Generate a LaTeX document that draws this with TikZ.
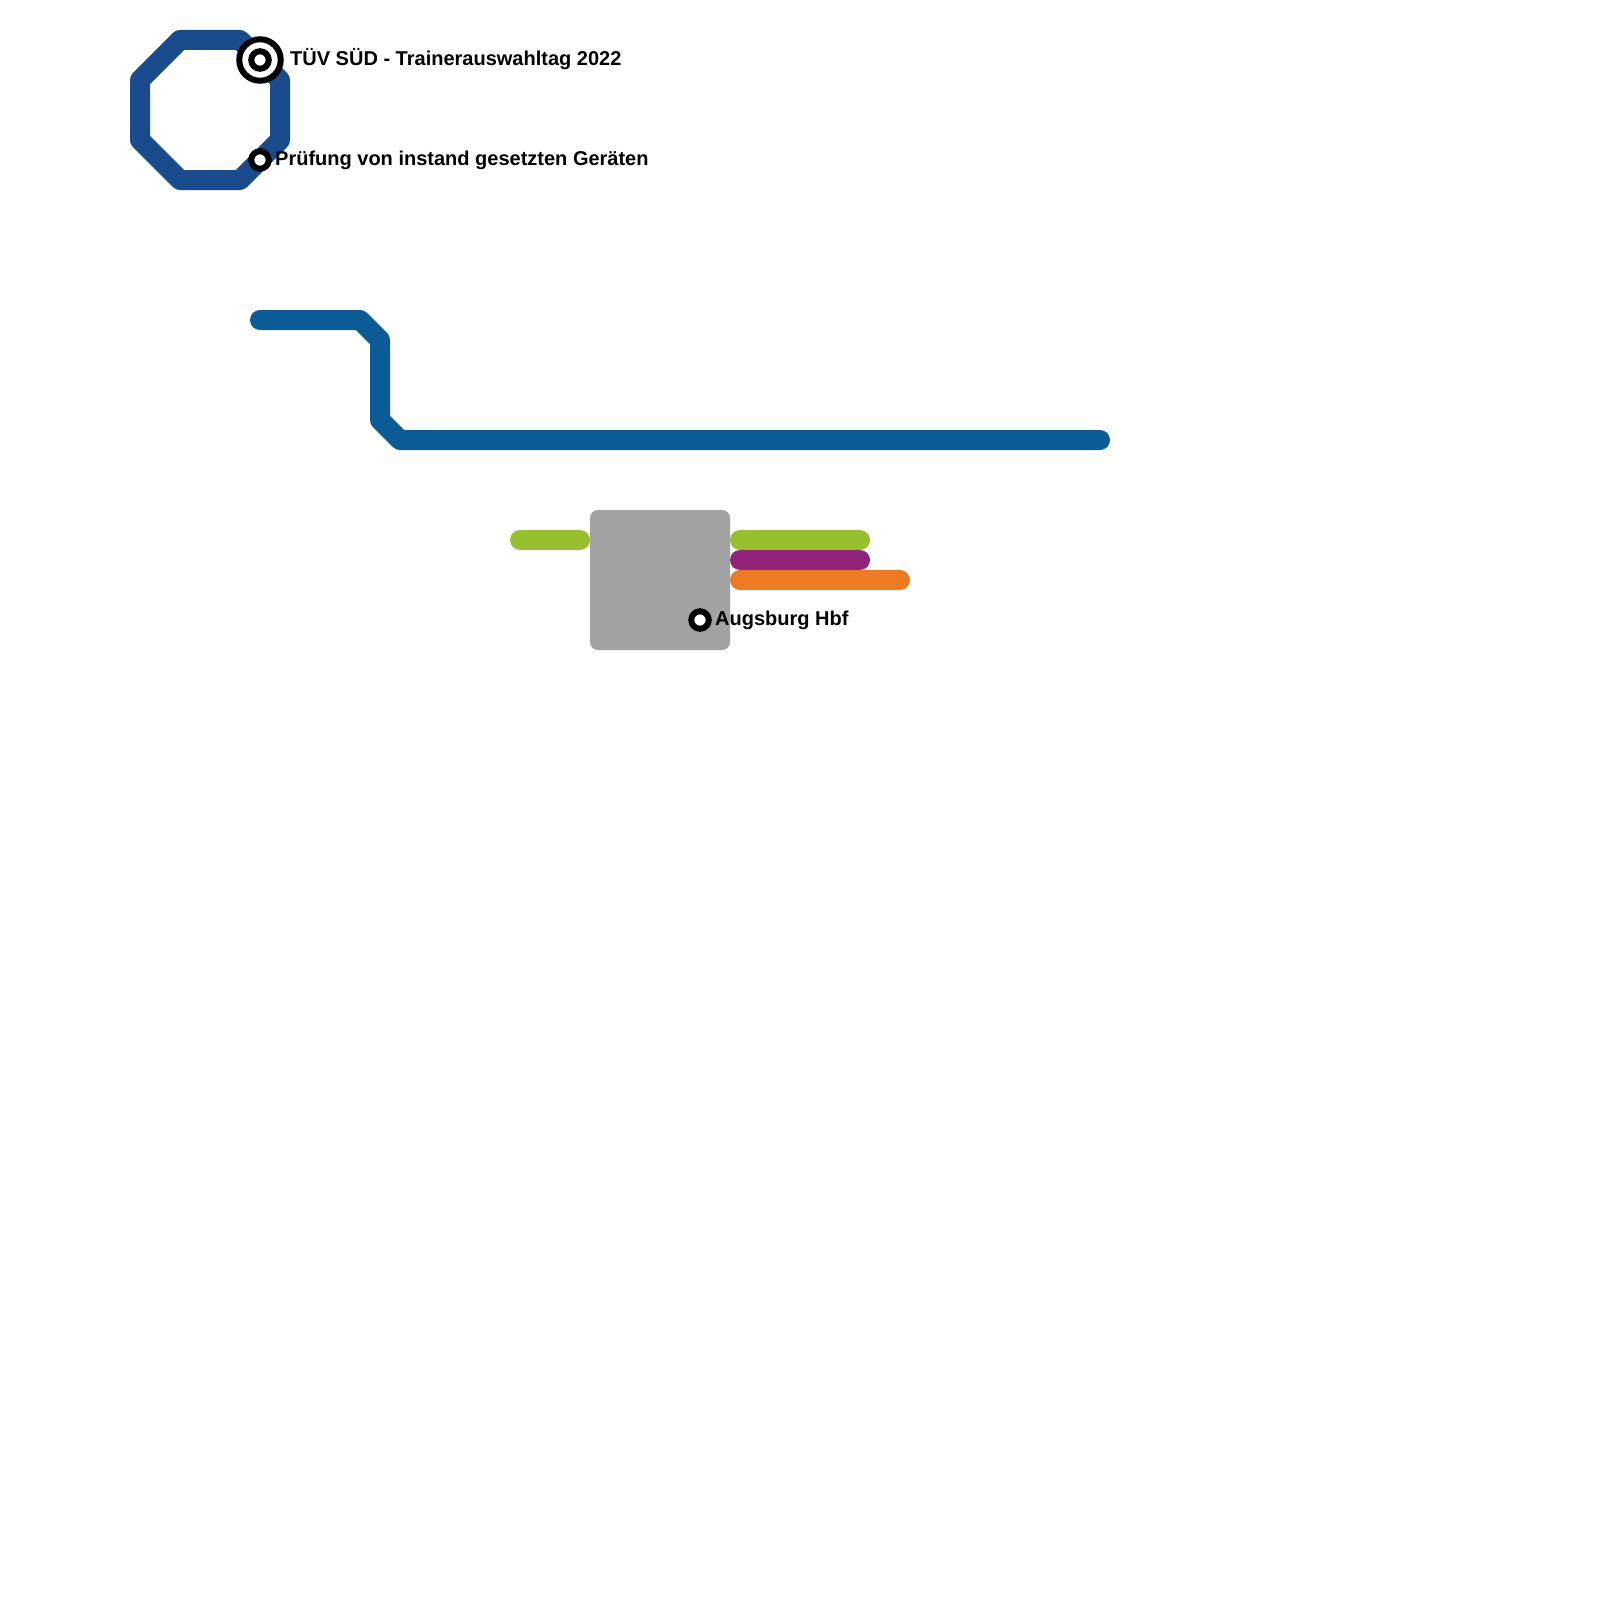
\documentclass[tikz,border=0pt]{standalone}
\usepackage{fontspec}
\setmainfont{Liberation Sans}
\definecolor{navyline}{HTML}{194B8D}
\definecolor{blueline}{HTML}{0B5B96}
\definecolor{greenline}{HTML}{98BF2F}
\definecolor{purpleline}{HTML}{92237A}
\definecolor{orangeline}{HTML}{EC7B23}
\definecolor{hubgrey}{HTML}{A2A2A2}
\tikzset{
  metro/.style={line width=20pt,line cap=round,line join=round},
  hub/.style={fill=hubgrey,rounded corners=8pt},
  smallstation/.style={circle,draw=black,fill=white,line width=6pt,minimum size=17.5pt,inner sep=0pt},
  terminus/.style={circle,draw=black,fill=white,line width=6pt,minimum size=41.5pt,inner sep=0pt},
  terminuscore/.style={circle,draw=black,fill=white,line width=6pt,minimum size=17.5pt,inner sep=0pt},
  stationlabel/.style={anchor=base west,inner sep=0pt,font=\bfseries\fontsize{20}{24}\selectfont}
}
\begin{document}
\begin{tikzpicture}[x=1pt,y=-1pt]
\useasboundingbox (0,0) rectangle (1600,1600);
\fill[white] (0,0) rectangle (1600,1600);
\draw[metro,navyline] (180,40) -- (240,40) -- (280,80) -- (280,140) -- (240,180) -- (180,180) -- (140,140) -- (140,80) -- cycle;
\draw[metro,blueline] (260,320) -- (360,320) -- (380,340) -- (380,420) -- (400,440) -- (1100,440);
\fill[hub] (590,510) rectangle (730,650);
\draw[metro,greenline] (520,540) -- (580,540);
\draw[metro,greenline] (740,540) -- (860,540);
\draw[metro,purpleline] (740,560) -- (860,560);
\draw[metro,orangeline] (740,580) -- (900,580);
\node[terminus] (tuev) at (260,60) {};
\node[terminuscore] (tuevcore) at (260,60) {};
\node[smallstation] (pruefung) at (260,160) {};
\node[smallstation] (augsburg) at (700,620) {};
\node[stationlabel] (tuevlabel) at (290,65.5) {TÜV SÜD - Trainerauswahltag 2022};
\node[stationlabel] (pruefunglabel) at (275,165.5) {Prüfung von instand gesetzten Geräten};
\node[stationlabel] (augsburglabel) at (715,625) {Augsburg Hbf};
\end{tikzpicture}
\end{document}
